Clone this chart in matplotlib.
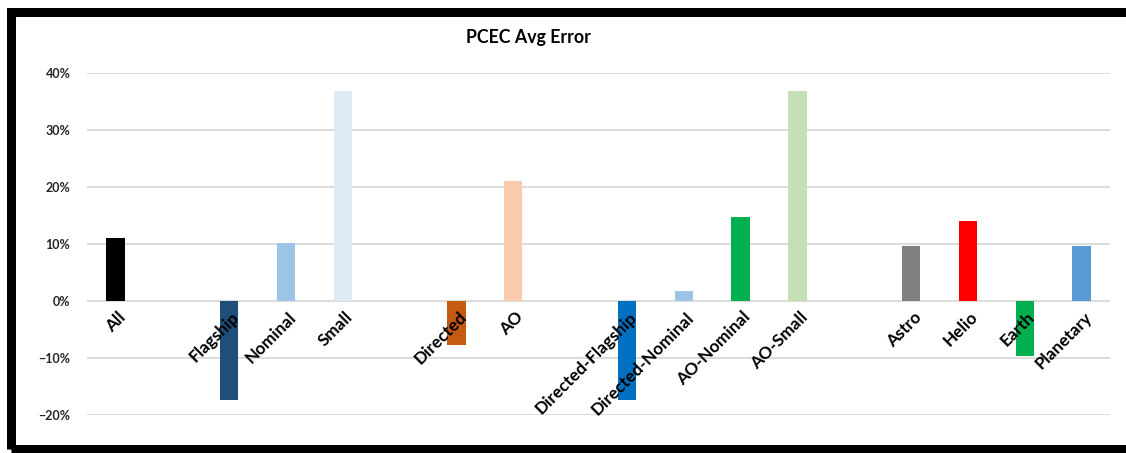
import matplotlib
matplotlib.use("Agg")
import matplotlib.pyplot as plt
from matplotlib.patches import Rectangle
from matplotlib.ticker import PercentFormatter

# Average error by mission group (fraction), blank slots separate the groups
categories = ["All", "", "Flagship", "Nominal", "Small", "", "Directed", "AO", "",
              "Directed-Flagship", "Directed-Nominal", "AO-Nominal", "AO-Small", "",
              "Astro", "Helio", "Earth", "Planetary"]
avg_error = [0.111, None, -0.174, 0.102, 0.368, None, -0.077, 0.210, None,
             -0.174, 0.018, 0.147, 0.368, None,
             0.096, 0.140, -0.096, 0.096]
bar_colors = ["#000000", None, "#1F4E79", "#9DC3E6", "#DEEBF7", None, "#C55A11", "#F8CBAD", None,
              "#0070C0", "#9DC3E6", "#00B050", "#C5E0B4", None,
              "#808080", "#FF0000", "#00B050", "#5B9BD5"]
y_ticks = [-0.2, -0.1, 0.0, 0.1, 0.2, 0.3, 0.4]

plt.rcParams["font.family"] = ["Lato", "DejaVu Sans"]

W, H = 1126, 453
fig = plt.figure(figsize=(W / 100, H / 100), dpi=100)
ax = fig.add_axes([87 / W, (H - 415) / H, (1110 - 87) / W, (415 - 73) / H])

xs = [i for i, v in enumerate(avg_error) if v is not None]
vals = [avg_error[i] for i in xs]
cols = [bar_colors[i] for i in xs]
ax.bar(xs, vals, width=0.32, color=cols, zorder=3)

ax.set_xlim(-0.5, len(categories) - 0.5)
ax.set_ylim(-0.2, 0.4)
ax.set_yticks(y_ticks)
ax.yaxis.set_major_formatter(PercentFormatter(1.0, decimals=0))
ax.grid(axis="y", color="#D9D9D9", linewidth=1.3, zorder=0)
ax.tick_params(axis="y", length=0, pad=12, labelsize=9, labelcolor="#262626")
for lbl in ax.get_yticklabels():
    lbl.set_fontweight("bold")
ax.set_xticks([])
for s in ax.spines.values():
    s.set_visible(False)

# rotated category labels hang from the zero line
for i, name in enumerate(categories):
    if not name:
        continue
    ax.annotate(name, xy=(i, 0), xytext=(2, -8), textcoords="offset pixels",
                ha="right", va="top", rotation=45, rotation_mode="anchor",
                fontsize=12.3, fontweight="bold", color="#000000", zorder=4)

fig.text(528 / W, 1 - 38 / H, "PCEC Avg Error", ha="center", va="center",
         fontsize=12.8, fontweight="bold", color="#000000")

# heavy black frame around the chart
lw_px = 9
fig.patches.append(Rectangle((10.5 / W, (H - 448.5) / H), (1140 - 10.5) / W, (448.5 - 11.5) / H,
                             transform=fig.transFigure, fill=False, edgecolor="black",
                             linewidth=lw_px * 0.72, joinstyle="miter", zorder=10))

fig.savefig("out.png", dpi=100)
